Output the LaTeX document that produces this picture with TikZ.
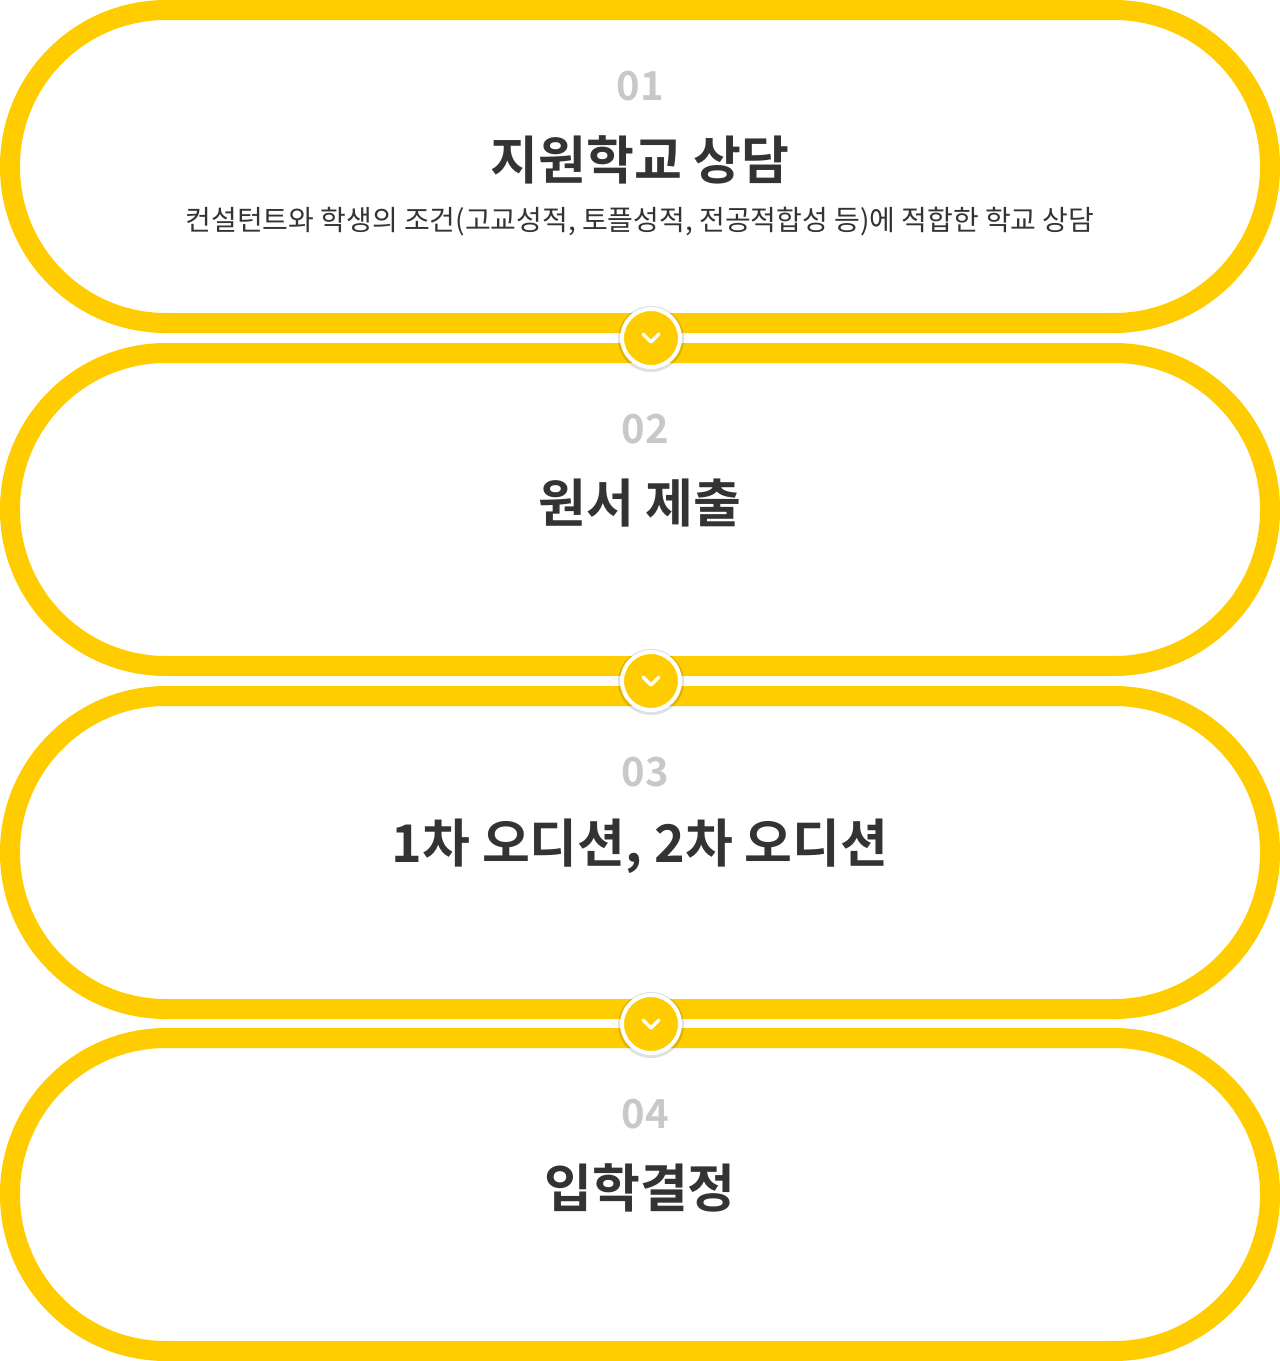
\documentclass[tikz,border=0pt]{standalone}
\usepackage{fontspec}
\setmainfont{Noto Sans CJK KR}
\newfontfamily\krb{Noto Sans CJK KR Bold}
\definecolor{yel}{HTML}{FFCC00}
\definecolor{numg}{HTML}{C8C8C8}
\definecolor{dark}{HTML}{333333}
\begin{document}
\begin{tikzpicture}[x=1pt,y=-1pt,
  pill/.style={draw=yel,line width=20pt,fill=white,rounded corners=156pt},
  num/.style={text=numg,font=\krb\fontsize{40}{40}\selectfont},
  ttl/.style={text=dark,font=\krb\fontsize{52}{52}\selectfont},
  sub/.style={text=dark,font=\fontsize{28}{28}\selectfont},
  knob/.style={circle,fill=yel,draw=white,line width=4pt,minimum size=58pt,inner sep=0pt,drop shadow={opacity=0.25}}]
\useasboundingbox (0,0) rectangle (1280,1361);
\foreach \t in {0,343,686,1028}{
  \draw[pill] (10,\t+10) rectangle (1270,\t+323);
}
\node[num] (n1) at (640,86) {01};
\node[ttl] (t1) at (640,160) {지원학교 상담};
\node[sub] (s1) at (640,222) {컨설턴트와 학생의 조건(고교성적, 토플성적, 전공적합성 등)에 적합한 학교 상담};
\node[num] (n2) at (645,429) {02};
\node[ttl] (t2) at (640,503) {원서 제출};
\node[num] (n3) at (645,772) {03};
\node[ttl] (t3) at (640,846) {1차 오디션, 2차 오디션};
\node[num] (n4) at (645,1114) {04};
\node[ttl] (t4) at (640,1188) {입학결정};
\foreach \y/\n in {338/k1,681/k2,1024/k3}{
  \fill[black,opacity=0.12] (651,\y+1) circle (33);
  \node[circle,fill=yel,draw=white,line width=4pt,minimum size=58pt,inner sep=0pt] (\n) at (651,\y) {};
  \draw[white,line width=3.5pt,line cap=round,line join=round] (643,\y-4) -- (651,\y+4) -- (659,\y-4);
}
\end{tikzpicture}
\end{document}
